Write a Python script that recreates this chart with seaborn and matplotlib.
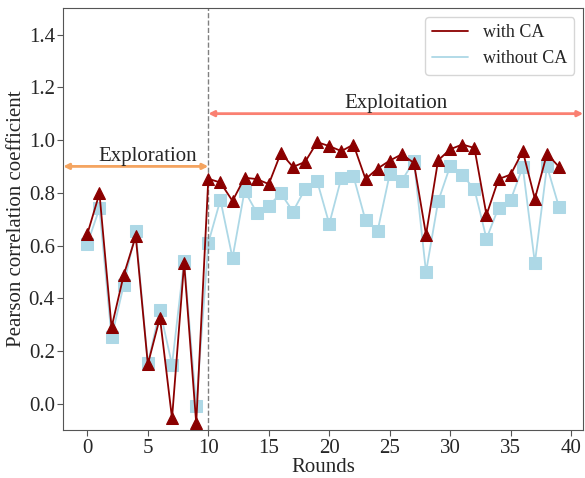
import numpy as np
import pandas as pd
import seaborn as sns
import matplotlib.pyplot as plt
from matplotlib.lines import Line2D

# =========================================================
# Data
# =========================================================
rounds = list(range(40))

with_ca = [0.644, 0.798, 0.290, 0.487, 0.635, 0.150, 0.327, -0.055, 0.534, -0.074,
           0.853, 0.839, 0.769, 0.857, 0.852, 0.833, 0.951, 0.898, 0.917, 0.992,
           0.977, 0.958, 0.983, 0.852, 0.892, 0.922, 0.946, 0.913, 0.641, 0.923,
           0.965, 0.983, 0.970, 0.716, 0.852, 0.869, 0.958, 0.777, 0.948, 0.898]

without_ca = [0.607, 0.741, 0.252, 0.449, 0.654, 0.154, 0.355, 0.148, 0.543, -0.009,
              0.610, 0.773, 0.553, 0.808, 0.725, 0.751, 0.798, 0.729, 0.814, 0.844,
              0.682, 0.857, 0.863, 0.695, 0.656, 0.871, 0.846, 0.920, 0.499, 0.767,
              0.902, 0.867, 0.814, 0.626, 0.744, 0.773, 0.898, 0.534, 0.901, 0.745]

series_names = ["with CA", "without CA"]
series_colors = ["#8B0000", "#ADD8E6"]
series_markers = ["^", "s"]

phase_split = 10


# =========================================================
# Plot
# =========================================================
def main():
    sns.set_style("ticks")
    plt.rcParams['font.family'] = ['Liberation Serif', 'DejaVu Serif']

    df = pd.DataFrame({
        "Rounds": rounds * 2,
        "value": with_ca + without_ca,
        "series": [series_names[0]] * len(rounds) + [series_names[1]] * len(rounds),
    })

    fig, ax = plt.subplots(figsize=(5.85, 4.78), dpi=100)
    fig.subplots_adjust(left=0.108, right=0.997, bottom=0.1, top=0.983)

    # draw light blue first so dark red sits on top
    for name, color, marker, z in zip(series_names[::-1], series_colors[::-1],
                                      series_markers[::-1], [2, 3]):
        sub = df[df["series"] == name]
        sns.lineplot(data=sub, x="Rounds", y="value", color=color, marker=marker,
                     markersize=8, markeredgecolor=color, linewidth=1.3,
                     ax=ax, zorder=z, legend=False)

    ax.axvline(phase_split, color="gray", linestyle="--", linewidth=1)

    ax.set_xlim(-2, 41)
    ax.set_ylim(-0.1, 1.5)
    ax.set_xticks(range(0, 41, 5))
    ax.set_yticks(np.arange(0, 1.41, 0.2))
    ax.set_xlabel("Rounds", fontsize=15, labelpad=0)
    ax.set_ylabel("Pearson correlation coefficient", fontsize=15, labelpad=2)
    ax.tick_params(labelsize=15, color="#555555", length=4, pad=2)
    for sp in ax.spines.values():
        sp.set_color("#555555")

    # phase arrows
    ax.annotate("", xy=(-2, 0.9), xytext=(phase_split, 0.9),
                arrowprops=dict(arrowstyle="<|-|>", color="#F4A460", lw=2,
                                mutation_scale=8, shrinkA=0, shrinkB=0))
    ax.text(5, 0.903, "Exploration", fontsize=15, ha="center", va="bottom")
    ax.annotate("", xy=(phase_split, 1.1), xytext=(41, 1.1),
                arrowprops=dict(arrowstyle="<|-|>", color="#FA8072", lw=2,
                                mutation_scale=8, shrinkA=0, shrinkB=0))
    ax.text(25.5, 1.103, "Exploitation", fontsize=15, ha="center", va="bottom")

    handles = [Line2D([0], [0], color=c, lw=1.3) for c in series_colors]
    ax.legend(handles, series_names, loc="upper right", fontsize=13,
              frameon=True, handlelength=2.0)

    fig.savefig("out.png", dpi=100)


if __name__ == "__main__":
    main()
